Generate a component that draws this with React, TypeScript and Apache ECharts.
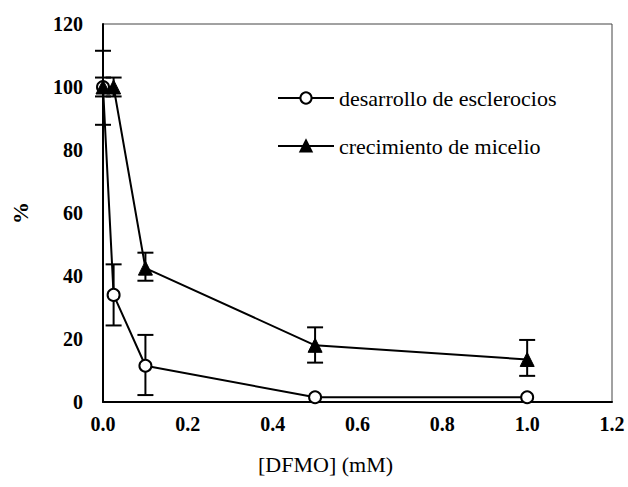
import React, { useEffect, useRef } from "react";
import * as echarts from "echarts";

const xTicks = [0, 0.2, 0.4, 0.6, 0.8, 1.0, 1.2];
const dose = [0, 0.025, 0.1, 0.5, 1.0];
const esclerocios = [100, 34, 11.5, 1.5, 1.5];
const esclerociosLow = [88, 24.3, 2.2, 1.5, 1.5];
const esclerociosHigh = [111.5, 43.7, 21.3, 1.5, 1.5];
const micelio = [100, 100, 42.5, 18, 13.5];
const micelioLow = [97, 97, 38.5, 12.5, 8.3];
const micelioHigh = [103, 103, 47.4, 23.7, 19.7];
const seriesNames = ["desarrollo de esclerocios", "crecimiento de micelio"];

const FONT = "Liberation Serif";

function errorSeries(low: number[], high: number[]) {
  return {
    type: "custom",
    silent: true,
    clip: false,
    z: 1,
    data: dose.map((x, i) => [x, low[i], high[i]]),
    renderItem: (params: any, api: any) => {
      const x = api.value(0);
      const lo = api.coord([x, api.value(1)]);
      const hi = api.coord([x, api.value(2)]);
      const w = 8;
      const style = { stroke: "#000", lineWidth: 2 };
      if (Math.abs(lo[1] - hi[1]) < 1) return { type: "group", children: [] };
      return {
        type: "group",
        children: [
          { type: "line", shape: { x1: lo[0], y1: lo[1], x2: hi[0], y2: hi[1] }, style },
          { type: "line", shape: { x1: lo[0] - w, y1: lo[1], x2: lo[0] + w, y2: lo[1] }, style },
          { type: "line", shape: { x1: hi[0] - w, y1: hi[1], x2: hi[0] + w, y2: hi[1] }, style },
        ],
      };
    },
  };
}

export default function App() {
  const ref = useRef<HTMLDivElement>(null);
  useEffect(() => {
    if (!ref.current) return;
    const chart = echarts.init(ref.current, undefined, { renderer: "svg" });
    chart.setOption({
      animation: false,
      backgroundColor: "#fff",
      grid: {
        left: 103,
        top: 24,
        right: 16,
        bottom: 85,
        show: true,
        borderColor: "#444",
        borderWidth: 1,
      },
      legend: {
        orient: "vertical",
        left: 277,
        top: 87,
        padding: 0,
        itemWidth: 56,
        itemHeight: 14,
        itemGap: 26,
        data: seriesNames,
        textStyle: { fontFamily: FONT, fontSize: 22, color: "#000" },
      },
      xAxis: {
        type: "value",
        min: xTicks[0],
        max: xTicks[xTicks.length - 1],
        interval: 0.2,
        axisLine: { lineStyle: { color: "#000", width: 2 } },
        axisTick: { show: false },
        splitLine: { show: false },
        axisLabel: {
          margin: 12,
          color: "#000",
          fontFamily: FONT,
          fontWeight: "bold",
          fontSize: 20,
          formatter: (v: number) => v.toFixed(1),
        },
      },
      yAxis: {
        type: "value",
        min: 0,
        max: 120,
        interval: 20,
        name: "%",
        nameLocation: "middle",
        nameGap: 72,
        nameRotate: 90,
        nameTextStyle: { fontFamily: FONT, fontSize: 22, fontWeight: "bold", color: "#000" },
        axisLine: { show: true, lineStyle: { color: "#000", width: 2 } },
        axisTick: { show: false },
        splitLine: { show: false },
        axisLabel: {
          margin: 20,
          color: "#000",
          fontFamily: FONT,
          fontWeight: "bold",
          fontSize: 20,
        },
      },
      graphic: [
        {
          type: "text",
          left: 258,
          top: 453,
          style: { text: "[DFMO] (mM)", fontFamily: FONT, fontSize: 22, fill: "#000" },
        },
      ],
      series: [
        errorSeries(esclerociosLow, esclerociosHigh),
        errorSeries(micelioLow, micelioHigh),
        {
          name: seriesNames[0],
          type: "line",
          clip: false,
          z: 3,
          data: dose.map((x, i) => [x, esclerocios[i]]),
          symbol: "circle",
          symbolSize: 12,
          lineStyle: { color: "#000", width: 2 },
          itemStyle: { color: "#fff", borderColor: "#000", borderWidth: 2 },
        },
        {
          name: seriesNames[1],
          type: "line",
          clip: false,
          z: 3,
          data: dose.map((x, i) => [x, micelio[i]]),
          symbol: "triangle",
          symbolSize: 14,
          lineStyle: { color: "#000", width: 2 },
          itemStyle: { color: "#000", borderColor: "#000", borderWidth: 1 },
        },
      ],
    });
    return () => chart.dispose();
  }, []);
  return (
    <div
      ref={ref}
      style={{ position: "absolute", left: 0, top: 0, width: 628, height: 487 }}
    />
  );
}
